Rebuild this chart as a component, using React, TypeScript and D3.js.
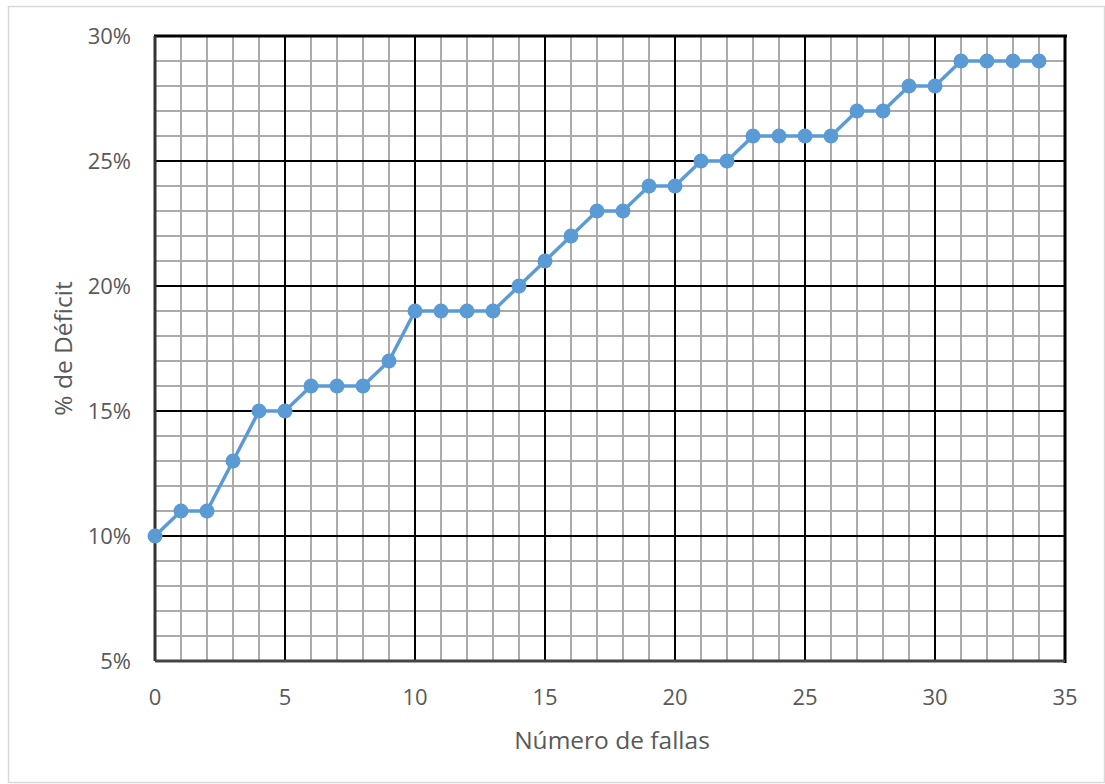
import React from "react";
import * as d3 from "d3";

const fallas = [0,1,2,3,4,5,6,7,8,9,10,11,12,13,14,15,16,17,18,19,20,21,22,23,24,25,26,27,28,29,30,31,32,33,34];
const deficit = [10,11,11,13,15,15,16,16,16,17,19,19,19,19,20,21,22,23,23,24,24,25,25,26,26,26,26,27,27,28,28,29,29,29,29];
const xTicks = [0,5,10,15,20,25,30,35];
const yTicks = [5,10,15,20,25,30];

export default function App() {
  const W = 1105, H = 784;
  const L = 155, R = 1065, T = 36, B = 661;
  const x = d3.scaleLinear().domain([0, 35]).range([L, R]);
  const y = d3.scaleLinear().domain([5, 30]).range([B, T]);
  const minorX = d3.range(0, 36, 1).filter(v => v % 5 !== 0);
  const minorY = d3.range(5, 31, 1).filter(v => v % 5 !== 0);
  const line = d3.line<number>().x((_, i) => x(fallas[i])).y(d => y(d));
  const font = "'Open Sans', sans-serif";
  return (
    <svg width={W} height={H} style={{ position: "absolute", left: 0, top: 0 }}>
      <rect x={0} y={0} width={W} height={H} fill="#fff" />
      <rect x={8.5} y={6.5} width={W - 9} height={H - 8} fill="#fff" stroke="#d9d9d9" strokeWidth={1.5} />
      {minorX.map(v => (
        <line key={"mx" + v} x1={x(v)} x2={x(v)} y1={T} y2={B} stroke="#ababab" strokeWidth={2} />
      ))}
      {minorY.map(v => (
        <line key={"my" + v} x1={L} x2={R} y1={y(v)} y2={y(v)} stroke="#ababab" strokeWidth={2} />
      ))}
      {xTicks.filter(v => v > 0 && v < 35).map(v => (
        <line key={"Mx" + v} x1={x(v)} x2={x(v)} y1={T} y2={B} stroke="#000" strokeWidth={2} />
      ))}
      {yTicks.filter(v => v > 5 && v < 30).map(v => (
        <line key={"My" + v} x1={L} x2={R} y1={y(v)} y2={y(v)} stroke="#000" strokeWidth={2} />
      ))}
      <line x1={L - 1} x2={R + 2} y1={T} y2={T} stroke="#000" strokeWidth={3} />
      <line x1={R} x2={R} y1={T} y2={B + 2} stroke="#000" strokeWidth={3} />
      <line x1={L} x2={L} y1={T} y2={B} stroke="#333" strokeWidth={3} />
      <line x1={L} x2={R} y1={B} y2={B} stroke="#444" strokeWidth={3} />
      <path d={line(deficit) || ""} fill="none" stroke="#5b9bd5" strokeWidth={3.5} strokeLinejoin="round" />
      {deficit.map((d, i) => (
        <circle key={i} cx={x(fallas[i])} cy={y(d)} r={7.5} fill="#5b9bd5" />
      ))}
      {yTicks.map(v => (
        <text key={"yt" + v} x={131} y={y(v)} dy="0.35em" textAnchor="end" fontFamily={font} fontSize={22} fill="#595959">{v}%</text>
      ))}
      {xTicks.map(v => (
        <text key={"xt" + v} x={x(v)} y={697} dy="0.35em" textAnchor="middle" fontFamily={font} fontSize={22} fill="#595959">{v}</text>
      ))}
      <text x={612} y={740} dy="0.35em" textAnchor="middle" fontFamily={font} fontSize={24.5} fill="#595959">Número de fallas</text>
      <text transform={`translate(63, ${(T + B) / 2}) rotate(-90)`} dy="0.35em" textAnchor="middle" fontFamily={font} fontSize={24.5} fill="#595959">% de Déficit</text>
    </svg>
  );
}
